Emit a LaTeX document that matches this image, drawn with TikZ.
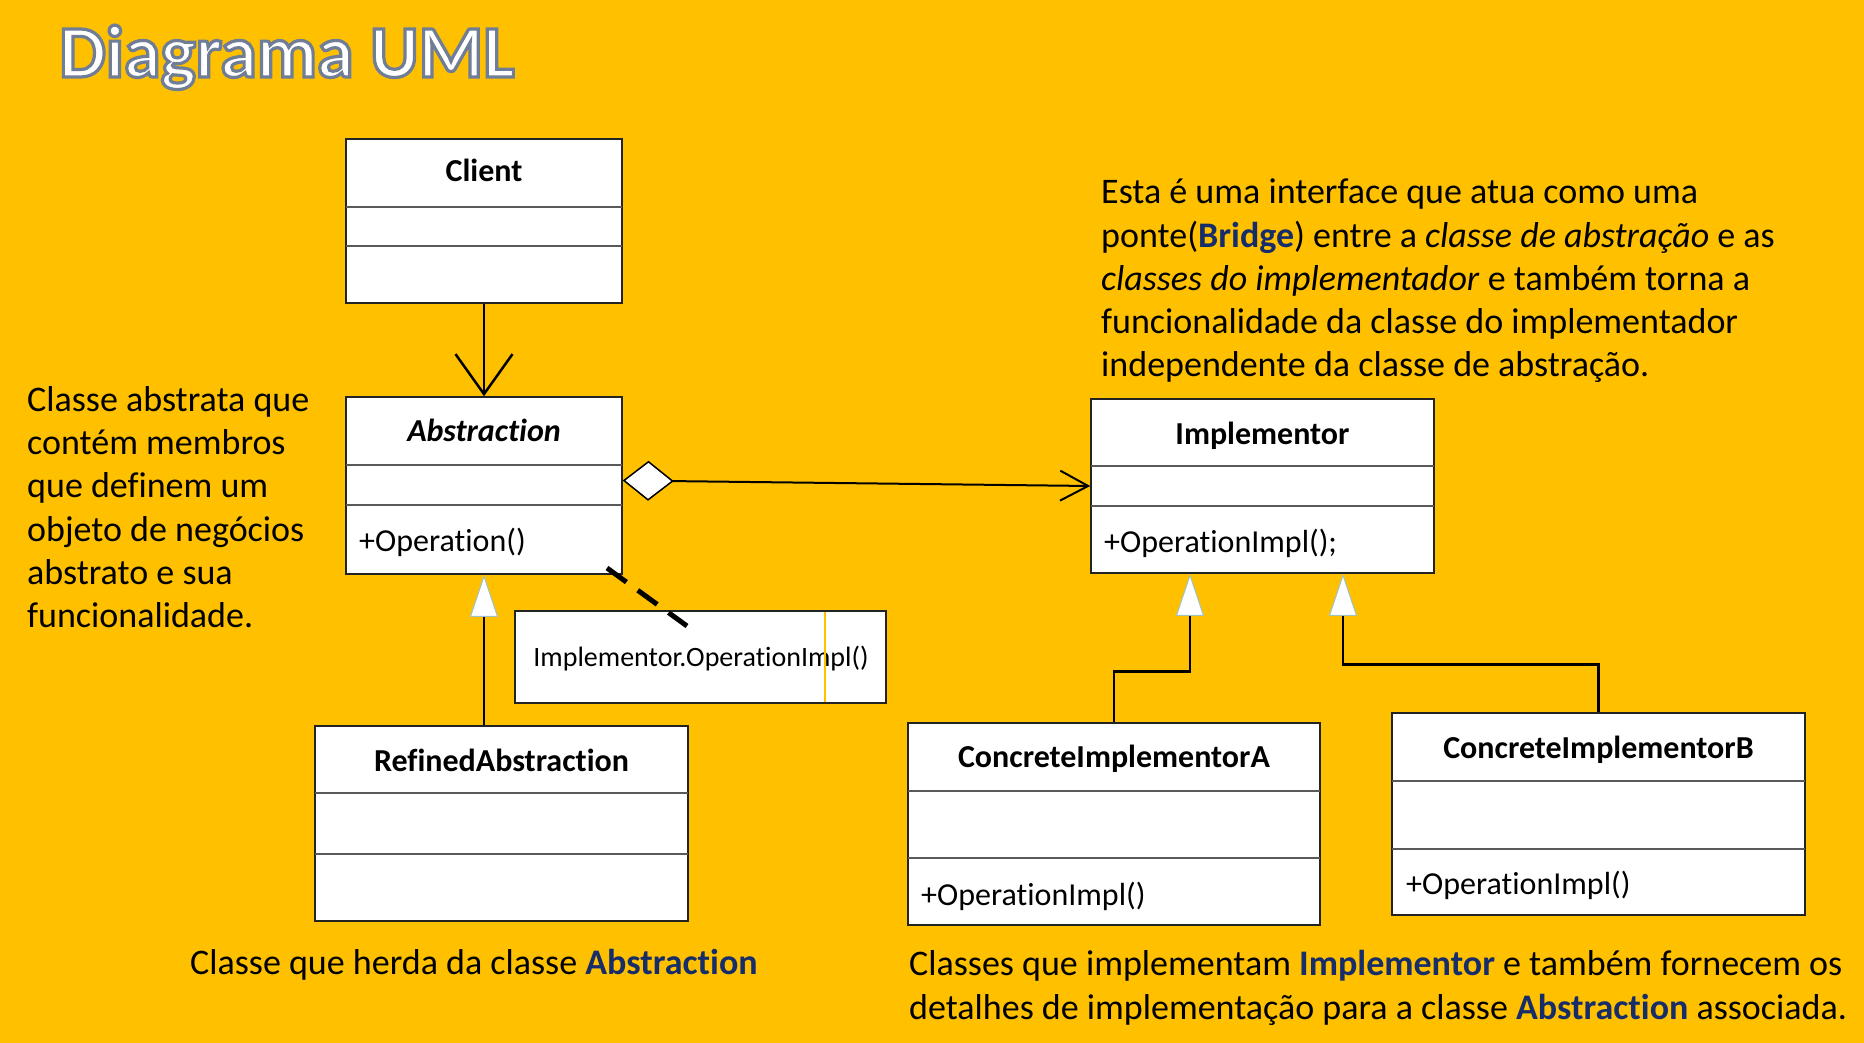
\documentclass[tikz,border=0pt]{standalone}
\usepackage{fontspec}
\setmainfont{Carlito}[Ligatures=NoCommon]
\usetikzlibrary{arrows.meta}
\definecolor{bgyellow}{RGB}{255,192,0}
\definecolor{navy}{RGB}{22,45,105}
\definecolor{boxline}{RGB}{35,35,35}
\definecolor{tipedge}{RGB}{160,195,190}
\begin{document}
\begin{tikzpicture}[x=1pt,y=-1pt,
  cls/.style={draw=boxline, line width=1.5pt, fill=white, inner sep=0pt},
  divider/.style={draw=black!65, line width=1.5pt},
  clsname/.style={font=\fontsize{32}{38}\selectfont\bfseries, inner sep=0pt, text height=22pt, text depth=0pt, anchor=center},
  member/.style={font=\fontsize{32}{38}\selectfont, inner sep=0pt, text height=22pt, text depth=0pt, anchor=west},
  notetext/.style={font=\fontsize{28}{34}\selectfont, inner sep=0pt, text height=19pt, text depth=0pt, anchor=center},
  body/.style={font=\fontsize{36}{43}\selectfont, inner sep=0pt, text height=25pt, text depth=0pt, anchor=west},
  titlefont/.style={font=\fontsize{74}{82}\selectfont\bfseries, inner sep=0pt, anchor=base west},
  assoc/.style={draw=black, line width=2.5pt, -{Straight Barb[length=40pt,width=57pt,line width=2.5pt]}},
  agg/.style={draw=black, line width=2pt, {Diamond[fill=white,length=51pt,width=40pt,line width=1.5pt]}-{Straight Barb[length=28pt,width=30pt,line width=2pt]}},
  gen/.style={draw=black, line width=2.5pt, -{Triangle[length=42pt,width=28pt,fill=white,color=tipedge,line width=1pt]}},
  dashline/.style={draw=black, line width=5pt, dash pattern=on 24pt off 14pt},
  seam/.style={draw=bgyellow, line width=1.5pt}
]
\useasboundingbox (0,0) rectangle (1864,1043);
\fill[bgyellow] (0,0) rectangle (1864,1043);

% title (white fill with grey-blue outline)
\node[titlefont, text=white] (title) at (59,77)
  {\special{pdf:literal direct 2 Tr 3.2 w 0.44 0.49 0.59 RG}Diagrama UML\special{pdf:literal direct 0 Tr}};

% Client
\node[cls, minimum width=276pt, minimum height=164pt] (client) at (484,221) {};
\draw[divider] (346,207) -- (622,207);
\draw[divider] (346,246) -- (622,246);
\node[clsname] (clientname) at (484,171) {Client};

% Abstraction
\node[cls, minimum width=276pt, minimum height=177pt] (abs) at (484,485.5) {};
\draw[divider] (346,465) -- (622,465);
\draw[divider] (346,505) -- (622,505);
\node[clsname] (absname) at (484,430) {\itshape Abstraction};
\node[member] (absop) at (359,540) {+Operation()};

% Implementor
\node[cls, minimum width=343pt, minimum height=174pt] (impl) at (1262.5,486) {};
\draw[divider] (1091,466) -- (1434,466);
\draw[divider] (1091,506) -- (1434,506);
\node[clsname] (implname) at (1262.5,433) {Implementor};
\node[member] (implop) at (1104,541) {+OperationImpl();};

% RefinedAbstraction
\node[cls, minimum width=373pt, minimum height=195pt] (ra) at (501.5,823.5) {};
\draw[divider] (315,793) -- (688,793);
\draw[divider] (315,854) -- (688,854);
\node[clsname] (raname) at (501.5,760) {RefinedAbstraction};

% ConcreteImplementorA
\node[cls, minimum width=412pt, minimum height=202pt] (cia) at (1114,824) {};
\draw[divider] (908,791) -- (1320,791);
\draw[divider] (908,858) -- (1320,858);
\node[clsname] (cianame) at (1114,756) {ConcreteImplementorA};
\node[member] (ciaop) at (921,894) {+OperationImpl()};

% ConcreteImplementorB
\node[cls, minimum width=413pt, minimum height=202pt] (cib) at (1598.5,814) {};
\draw[divider] (1392,781) -- (1805,781);
\draw[divider] (1392,849) -- (1805,849);
\node[clsname] (cibname) at (1598.5,747) {ConcreteImplementorB};
\node[member] (cibop) at (1406,883) {+OperationImpl()};

% note
\node[cls, minimum width=371pt, minimum height=92pt] (note) at (700.5,657) {};
\node[notetext] (notetxt) at (701,657) {Implementor.OperationImpl()};
\draw[seam] (825,612) -- (825,702);

% connectors
\draw[assoc] (client.south) -- (abs.north);
\draw[agg] ([yshift=5pt]abs.east) -- (impl.west);
\draw[gen] (ra.north -| abs.south) -- (abs.south);
\draw[gen] (cia.north) -- ++(0,-51) -| ([xshift=-72.5pt]impl.south);
\draw[gen] (cib.north) -- ++(0,-48) -| ([xshift=80.5pt]impl.south);
\coordinate (d1) at (607,568);
\coordinate (d2) at (687,626);
\draw[dashline] (d1) -- (d2);

% left text
\node[body] (l1) at (27,399) {Classe abstrata que};
\node[body] (l2) at (27,442) {contém membros};
\node[body] (l3) at (27,485) {que definem um};
\node[body] (l4) at (27,529) {objeto de negócios};
\node[body] (l5) at (27,572) {abstrato e sua};
\node[body] (l6) at (27,615) {funcionalidade.};

% right text
\node[body] (r1) at (1101,191) {Esta é uma interface que atua como uma};
\node[body] (r2) at (1101,235) {ponte(\textcolor{navy}{\textbf{Bridge}}) entre a \textit{classe de abstração} e as};
\node[body] (r3) at (1101,278) {\textit{classes do implementador} e também torna a};
\node[body] (r4) at (1101,321) {funcionalidade da classe do implementador};
\node[body] (r5) at (1101,364) {independente da classe de abstração.};

% bottom texts
\node[body] (b1) at (190,962) {Classe que herda da classe \textcolor{navy}{\textbf{Abstraction}}};
\node[body] (b2) at (909,963) {Classes que implementam \textcolor{navy}{\textbf{Implementor}} e também fornecem os};
\node[body] (b3) at (909,1007) {detalhes de implementação para a classe \textcolor{navy}{\textbf{Abstraction}} associada.};
\end{tikzpicture}
\end{document}
